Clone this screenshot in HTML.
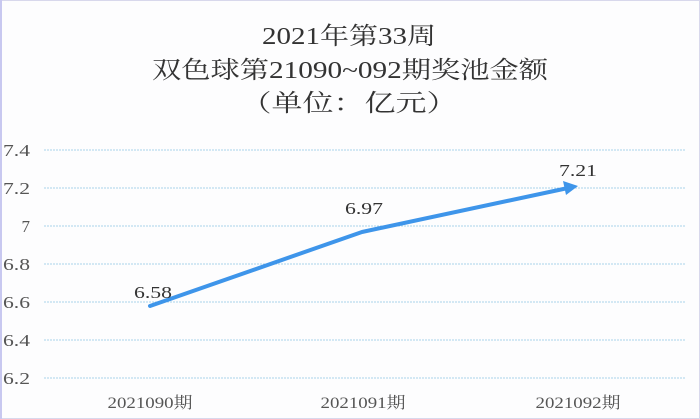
<!DOCTYPE html>
<html><head><meta charset="utf-8"><style>
html,body{margin:0;padding:0;background:#fff;}
svg{display:block;font-family:"Liberation Serif","Noto Serif CJK SC",serif;}
</style></head><body>
<svg width="700" height="419" viewBox="0 0 700 419">
<rect x="0.5" y="0.5" width="699" height="418" fill="#fdfdfe" stroke="#d8d8ec"/>
<line x1="1" y1="0" x2="1" y2="419" stroke="#c8c8f0" stroke-width="2"/>
<g fill="#333" font-size="24" text-anchor="middle" lengthAdjust="spacingAndGlyphs">
<text x="349" y="44" textLength="174" lengthAdjust="spacingAndGlyphs">2021年第33周</text>
<text x="350" y="78" textLength="396" lengthAdjust="spacingAndGlyphs">双色球第21090~092期奖池金额</text>
<text x="349" y="111" textLength="217" lengthAdjust="spacingAndGlyphs">（单位：亿元）</text>
</g>
<g stroke="#a9d3ea" stroke-width="1" stroke-dasharray="2,1">
<line x1="44" y1="150" x2="685" y2="150"/>
<line x1="44" y1="188" x2="685" y2="188"/>
<line x1="44" y1="226" x2="685" y2="226"/>
<line x1="44" y1="264" x2="685" y2="264"/>
<line x1="44" y1="302" x2="685" y2="302"/>
<line x1="44" y1="340" x2="685" y2="340"/>
<line x1="44" y1="378" x2="685" y2="378"/>
</g>
<g fill="#555" font-size="17" text-anchor="end">
<text x="30" y="156" textLength="27" lengthAdjust="spacingAndGlyphs">7.4</text>
<text x="30" y="194" textLength="27" lengthAdjust="spacingAndGlyphs">7.2</text>
<text x="30" y="232">7</text>
<text x="30" y="270" textLength="27" lengthAdjust="spacingAndGlyphs">6.8</text>
<text x="30" y="308" textLength="27" lengthAdjust="spacingAndGlyphs">6.6</text>
<text x="30" y="346" textLength="27" lengthAdjust="spacingAndGlyphs">6.4</text>
<text x="30" y="384" textLength="27" lengthAdjust="spacingAndGlyphs">6.2</text>
</g>
<g fill="#555" font-size="16" text-anchor="middle">
<text x="150" y="408" textLength="85" lengthAdjust="spacingAndGlyphs">2021090期</text>
<text x="363" y="408" textLength="85" lengthAdjust="spacingAndGlyphs">2021091期</text>
<text x="578" y="408" textLength="85" lengthAdjust="spacingAndGlyphs">2021092期</text>
</g>
<polyline points="150,306 362,232 568,188" fill="none" stroke="#3e95ea" stroke-width="4" stroke-linecap="round" stroke-linejoin="round"/>
<polygon points="578,186 563,181 566,195" fill="#3e95ea"/>
<g fill="#333" font-size="17" text-anchor="middle">
<text x="153" y="298" textLength="38" lengthAdjust="spacingAndGlyphs">6.58</text>
<text x="364" y="214" textLength="38" lengthAdjust="spacingAndGlyphs">6.97</text>
<text x="578" y="176" textLength="38" lengthAdjust="spacingAndGlyphs">7.21</text>
</g>
</svg>
</body></html>
